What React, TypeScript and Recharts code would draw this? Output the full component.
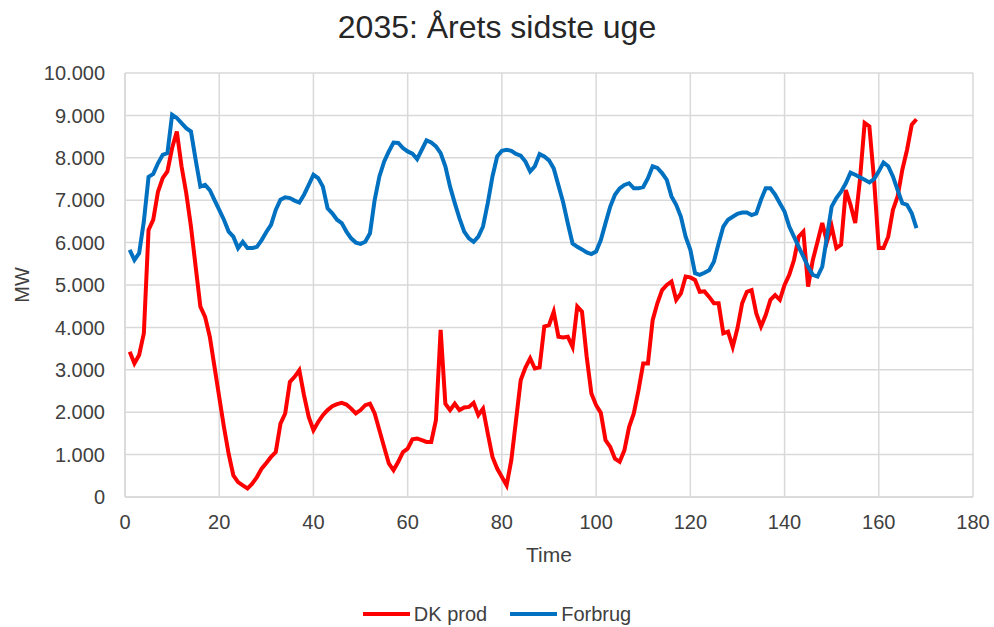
import { LineChart, Line, XAxis, YAxis, CartesianGrid, Legend } from "recharts";

// hours of the last week of the year
const hours = Array.from({ length: 168 }, (_, i) => i + 1);

const dkProd = [
  3425, 3150, 3350, 3860, 6300, 6540, 7200, 7520, 7680, 8230,
  8620, 7800, 7165, 6380, 5430, 4490, 4250, 3780, 3070, 2360,
  1650, 1020, 510, 350, 275, 200, 315, 470, 670, 800,
  945, 1060, 1730, 1970, 2715, 2835, 2990, 2400, 1890, 1575,
  1770, 1930, 2050, 2140, 2190, 2220, 2180, 2085, 1970, 2050,
  2165, 2200, 1970, 1575, 1180, 790, 630, 830, 1060, 1140,
  1360, 1380, 1340, 1300, 1300, 1810, 3940, 2200, 2050, 2200,
  2050, 2110, 2125, 2220, 1930, 2085, 1500, 945, 670, 470,
  275, 870, 1810, 2760, 3055, 3270, 3030, 3055, 4020, 4055,
  4370, 3780, 3760, 3780, 3540, 4490, 4370, 3310, 2440, 2165,
  1985, 1340, 1180, 905, 830, 1100, 1650, 1970, 2520, 3150,
  3150, 4170, 4570, 4880, 5000, 5080, 4650, 4800, 5200, 5180,
  5120, 4840, 4850, 4720, 4570, 4570, 3860, 3900, 3540, 3980,
  4570, 4840, 4880, 4330, 4020, 4290, 4650, 4760, 4650, 5000,
  5240, 5590, 6140, 6260, 4960, 5590, 6020, 6460, 6020, 6380,
  5870, 5950, 7240, 6890, 6460, 7480, 8820, 8740, 7480, 5870,
  5870, 6140, 6770, 7090, 7720, 8190, 8780, 8910,
];

const forbrug = [
  5827, 5590, 5750, 6500, 7550, 7620, 7870, 8070, 8110, 9015,
  8940, 8820, 8700, 8620, 7950, 7320, 7360, 7240, 7000, 6770,
  6540, 6260, 6140, 5870, 6020, 5870, 5870, 5900, 6060, 6250,
  6420, 6770, 7010, 7070, 7050, 6990, 6945, 7130, 7360, 7600,
  7520, 7320, 6810, 6690, 6540, 6460, 6260, 6100, 6000, 5970,
  6020, 6220, 7010, 7560, 7910, 8150, 8360, 8350, 8230, 8150,
  8100, 7970, 8190, 8410, 8360, 8270, 8110, 7800, 7320, 6930,
  6570, 6260, 6100, 6020, 6140, 6380, 6930, 7560, 8030, 8165,
  8190, 8165, 8090, 8050, 7910, 7680, 7800, 8090, 8030, 7940,
  7750, 7350, 6950, 6450, 5980, 5900, 5840, 5770, 5730, 5790,
  6060, 6460, 6850, 7130, 7280, 7360, 7400, 7280, 7280, 7310,
  7520, 7800, 7760, 7640, 7480, 7090, 6890, 6610, 6140, 5830,
  5280, 5240, 5290, 5350, 5550, 5980, 6380, 6540, 6610, 6680,
  6710, 6710, 6650, 6690, 7010, 7280, 7280, 7130, 6930, 6730,
  6380, 6140, 5900, 5670, 5430, 5240, 5200, 5430, 6140, 6850,
  7050, 7200, 7400, 7650, 7600, 7540, 7480, 7420, 7500, 7680,
  7890, 7800, 7560, 7240, 6930, 6890, 6690, 6340,
];

const xTicks = [0, 20, 40, 60, 80, 100, 120, 140, 160, 180];
const yTicks = [0, 1000, 2000, 3000, 4000, 5000, 6000, 7000, 8000, 9000, 10000];

const data = hours.map((h, i) => ({ hour: h, dk: dkProd[i], forbrug: forbrug[i] }));

// danish thousands separator
const fmt = (v: number) => String(v).replace(/\B(?=(\d{3})+(?!\d))/g, ".");

const FONT = "'Liberation Sans', Arial, sans-serif";
const GRID = "#d9d9d9";
const TEXT = "#404040";

function LegendRow({ payload }: any) {
  return (
    <div style={{ display: "flex", justifyContent: "center", alignItems: "center", gap: 23, fontFamily: FONT, fontSize: 20, lineHeight: "20px", color: TEXT }}>
      {(payload || []).map((p: any) => (
        <div key={p.value} style={{ display: "flex", alignItems: "center" }}>
          <span style={{ display: "inline-block", width: 47, height: 4, background: p.color, marginRight: 4 }} />
          <span>{p.value}</span>
        </div>
      ))}
    </div>
  );
}

export default function App() {
  return (
    <div style={{ position: "absolute", left: 0, top: 0, width: 994, height: 627, background: "#fff" }}>
      <div style={{ position: "absolute", left: 0, top: 11, width: 994, textAlign: "center", fontFamily: FONT, fontSize: 32, lineHeight: "32px", color: "#262626" }}>
        2035: Årets sidste uge
      </div>
      <LineChart width={994} height={627} data={data} margin={{ top: 73, right: 21, bottom: 55, left: 0 }} style={{ fontFamily: FONT }}>
        <CartesianGrid stroke={GRID} strokeWidth={1.5} />
        <XAxis
          dataKey="hour"
          type="number"
          domain={[0, 180]}
          ticks={xTicks}
          height={75}
          tickLine={false}
          tickSize={0}
          tickMargin={18}
          axisLine={{ stroke: GRID, strokeWidth: 1.5 }}
          tick={{ fill: TEXT, fontSize: 20 }}
          label={{ value: "Time", position: "insideBottom", offset: 10, fill: TEXT, fontSize: 21 }}
        />
        <YAxis
          type="number"
          domain={[0, 10000]}
          ticks={yTicks}
          width={125}
          tickLine={false}
          tickSize={0}
          tickMargin={20}
          tickFormatter={fmt}
          axisLine={{ stroke: GRID, strokeWidth: 1.5 }}
          tick={{ fill: TEXT, fontSize: 20 }}
          label={{ value: "MW", angle: -90, position: "insideLeft", offset: 22, fill: TEXT, fontSize: 20, style: { textAnchor: "middle" } }}
        />
        <Line type="linear" dataKey="dk" name="DK prod" stroke="#ff0000" strokeWidth={4} dot={false} isAnimationActive={false} />
        <Line type="linear" dataKey="forbrug" name="Forbrug" stroke="#0070c0" strokeWidth={4} dot={false} isAnimationActive={false} />
        <Legend layout="horizontal" verticalAlign="middle" align="center" content={<LegendRow />} wrapperStyle={{ top: 604, left: 0, width: 994 }} />
      </LineChart>
    </div>
  );
}
